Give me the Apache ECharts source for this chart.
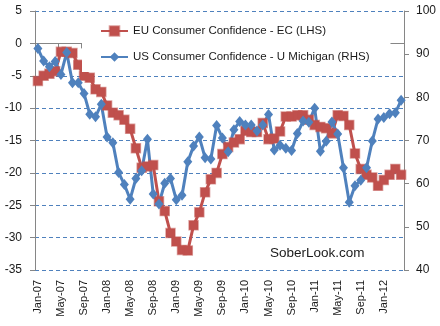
<!DOCTYPE html>
<html>
<head>
<meta charset="utf-8">
<script src="https://cdn.jsdelivr.net/npm/echarts@6/dist/echarts.min.js"></script>
<style>
  html, body { margin: 0; padding: 0; background: #fff; }
  #chart { width: 440px; height: 326px; }
</style>
</head>
<body>
<div id="chart"></div>
<script>
// Monthly categories, Jan-07 .. Apr-12
const months = [
  'Jan-07','Feb-07','Mar-07','Apr-07','May-07','Jun-07','Jul-07','Aug-07','Sep-07','Oct-07','Nov-07','Dec-07',
  'Jan-08','Feb-08','Mar-08','Apr-08','May-08','Jun-08','Jul-08','Aug-08','Sep-08','Oct-08','Nov-08','Dec-08',
  'Jan-09','Feb-09','Mar-09','Apr-09','May-09','Jun-09','Jul-09','Aug-09','Sep-09','Oct-09','Nov-09','Dec-09',
  'Jan-10','Feb-10','Mar-10','Apr-10','May-10','Jun-10','Jul-10','Aug-10','Sep-10','Oct-10','Nov-10','Dec-10',
  'Jan-11','Feb-11','Mar-11','Apr-11','May-11','Jun-11','Jul-11','Aug-11','Sep-11','Oct-11','Nov-11','Dec-11',
  'Jan-12','Feb-12','Mar-12','Apr-12'
];

// EU Consumer Confidence - EC (left axis)
const euConfidence = [
  -5.8, -5.0, -4.7, -4.3, -1.3, -1.3, -1.5, -3.3, -5.0, -5.3, -7.1, -7.5,
  -9.6, -10.7, -11.1, -11.8, -13.2, -16.2, -19.2, -19.0, -18.8, -24.4, -25.9, -29.3,
  -30.6, -31.9, -32.0, -28.1, -26.1, -23.0, -21.0, -20.0, -17.1, -16.0, -15.3, -14.8,
  -13.5, -13.7, -13.7, -12.3, -14.8, -14.7, -13.6, -11.3, -11.3, -11.1, -11.1, -11.8,
  -12.6, -12.9, -13.1, -13.9, -11.1, -11.2, -12.6, -17.0, -19.4, -20.3, -20.7, -22.0,
  -21.1, -20.3, -19.4, -20.3
];

// US Consumer Confidence - U Michigan (right axis)
const usConfidence = [
  91.3, 88.4, 87.1, 88.3, 85.3, 90.4, 83.4, 83.4, 80.9, 76.1, 75.5, 78.4,
  70.8, 69.5, 62.6, 59.8, 56.4, 61.2, 63.0, 70.3, 57.6, 55.3, 60.1, 61.2,
  56.3, 57.3, 65.1, 68.7, 70.8, 66.0, 65.7, 73.5, 70.6, 67.4, 72.5, 74.4,
  73.6, 73.6, 72.2, 73.6, 76.0, 67.8, 68.9, 68.2, 67.7, 71.6, 74.5, 74.2,
  77.5, 67.5, 69.8, 74.3, 71.5, 63.7, 55.7, 59.5, 60.8, 63.7, 69.9, 75.0,
  75.3, 76.2, 76.4, 79.3
];

const leftTicks = { min: -35, max: 5, interval: 5 };
const rightTicks = { min: 40, max: 100, interval: 10 };

const RED = '#C0504D';
const BLUE = '#4F81BD';
const AXIS_GREY = '#868686';
const FONT = 'Liberation Sans';

const chart = echarts.init(document.getElementById('chart'), null, { renderer: 'canvas' });

chart.setOption({
  animation: false,
  backgroundColor: '#fff',
  textStyle: { fontFamily: FONT, color: '#1a1a1a' },
  grid: { left: 35, right: 36, top: 11, bottom: 56, containLabel: false },
  legend: {
    orient: 'vertical',
    left: 82,
    top: 14,
    padding: [11, 21, 9, 18],
    itemGap: 14,
    itemWidth: 27,
    itemHeight: 12,
    backgroundColor: '#fff',
    textStyle: { fontFamily: FONT, fontSize: 11.5, color: '#1a1a1a' },
    data: ['EU Consumer Confidence - EC (LHS)', 'US Consumer Confidence - U Michigan (RHS)']
  },
  xAxis: [
    {
      // month labels along the bottom
      type: 'category',
      data: months,
      boundaryGap: true,
      position: 'bottom',
      axisLine: { show: false, onZero: false },
      axisTick: { show: false },
      axisLabel: {
        interval: 3,
        rotate: 90,
        margin: 10,
        fontFamily: FONT,
        fontSize: 11,
        color: '#1a1a1a'
      },
      splitLine: { show: false }
    },
    {
      // axis line crossing the left scale at zero
      type: 'category',
      data: months,
      boundaryGap: true,
      position: 'bottom',
      axisLine: { show: true, onZero: true, onZeroAxisIndex: 0, lineStyle: { color: AXIS_GREY, width: 1 } },
      axisTick: { show: true, interval: 3, length: 5, lineStyle: { color: AXIS_GREY } },
      axisLabel: { show: false },
      splitLine: { show: false }
    }
  ],
  yAxis: [
    {
      type: 'value',
      position: 'left',
      min: leftTicks.min,
      max: leftTicks.max,
      interval: leftTicks.interval,
      axisLine: { show: true, lineStyle: { color: AXIS_GREY, width: 1 } },
      axisTick: { show: true, length: 5, lineStyle: { color: AXIS_GREY } },
      axisLabel: { margin: 13, fontFamily: FONT, fontSize: 12, color: '#1a1a1a' },
      splitLine: { show: true, lineStyle: { color: BLUE, type: [4, 3], width: 1 } }
    },
    {
      type: 'value',
      position: 'right',
      min: rightTicks.min,
      max: rightTicks.max,
      interval: rightTicks.interval,
      axisLine: { show: true, lineStyle: { color: AXIS_GREY, width: 1 } },
      axisTick: { show: true, length: 5, lineStyle: { color: AXIS_GREY } },
      axisLabel: { margin: 12, fontFamily: FONT, fontSize: 12, color: '#1a1a1a' },
      splitLine: { show: false }
    }
  ],
  graphic: [
    {
      type: 'text',
      left: 270,
      top: 246,
      style: { text: 'SoberLook.com', fontFamily: FONT, fontSize: 13.5, fill: '#1a1a1a' }
    }
  ],
  series: [
    {
      name: 'EU Consumer Confidence - EC (LHS)',
      type: 'line',
      xAxisIndex: 0,
      yAxisIndex: 0,
      data: euConfidence,
      symbol: 'rect',
      symbolSize: 9,
      showAllSymbol: true,
      lineStyle: { color: RED, width: 3 },
      itemStyle: { color: RED, borderColor: 'rgba(192,80,77,0.55)', borderWidth: 1.5 }
    },
    {
      name: 'US Consumer Confidence - U Michigan (RHS)',
      type: 'line',
      xAxisIndex: 0,
      yAxisIndex: 1,
      data: usConfidence,
      symbol: 'diamond',
      symbolSize: [9, 11],
      showAllSymbol: true,
      lineStyle: { color: BLUE, width: 3 },
      itemStyle: { color: BLUE, borderColor: BLUE, borderWidth: 0 }
    }
  ]
});
</script>
</body>
</html>
